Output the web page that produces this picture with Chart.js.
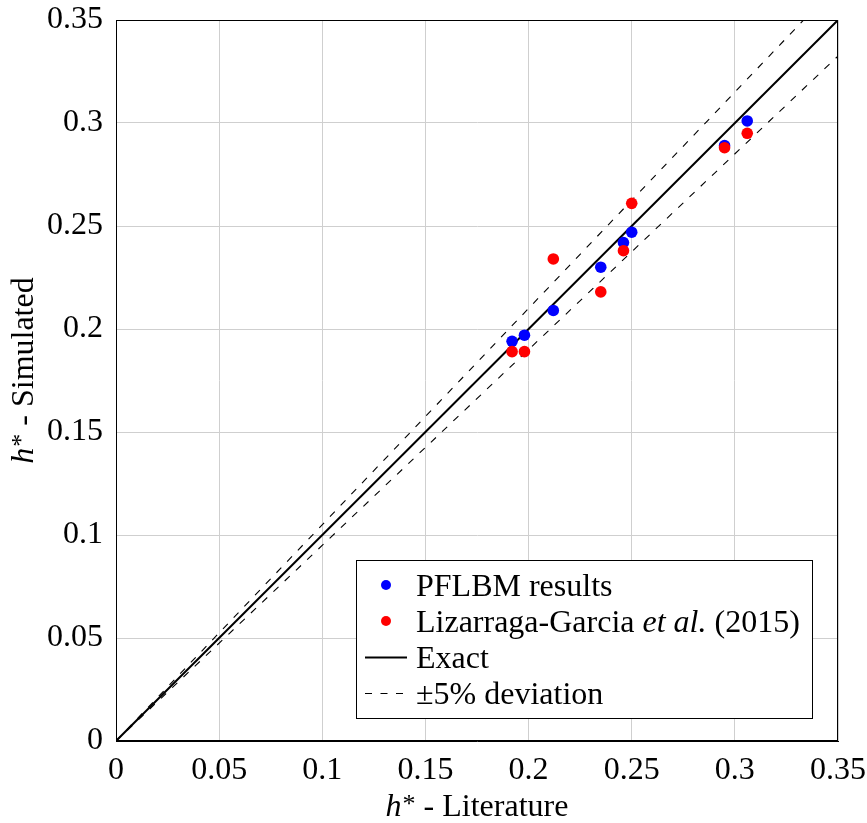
<!DOCTYPE html>
<html>
<head>
<meta charset="utf-8">
<script src="https://cdn.jsdelivr.net/npm/chart.js@4/dist/chart.umd.min.js"></script>
<style>
  html, body { margin: 0; padding: 0; background: #fff; }
  #c { display: block; }
</style>
</head>
<body>
<canvas id="c" width="867" height="823"></canvas>
<script>
// Dimensionless film thickness h*: literature values vs. simulated values
const literatureValues = [0.192, 0.198, 0.212, 0.235, 0.246, 0.250, 0.295, 0.306];
const pflbmValues      = [0.194, 0.197, 0.209, 0.230, 0.242, 0.247, 0.289, 0.301];
const lizarragaValues  = [0.189, 0.189, 0.234, 0.218, 0.238, 0.261, 0.288, 0.295];

// Reference lines: exact agreement and the +/-5% band (end points)
const refLineX   = [0, 0.35];
const exactLineY = [0, 0.35];
const upperLineY = [0, 0.3675];
const lowerLineY = [0, 0.3325];

const tickLabels = ['0', '0.05', '0.1', '0.15', '0.2', '0.25', '0.3', '0.35'];
const seriesLabels = ['PFLBM results', 'Lizarraga-Garcia et al. (2015)', 'Exact', '\u00b15% deviation'];
const xTitle = [{ t: 'h', italic: true }, { t: '*', sup: true }, { t: ' - Literature' }];
const yTitle = [{ t: 'h', italic: true }, { t: '*', sup: true }, { t: ' - Simulated' }];

const FONT = '"Liberation Serif", "Times New Roman", Times, serif';
const FS = 32;

const toPoints = (xs, ys) => xs.map((x, i) => ({ x: x, y: ys[i] }));

function fontStr(size, italic) {
  return (italic ? 'italic ' : '') + size + 'px ' + FONT;
}

// Text made of pieces (italic / superscript), drawn on one baseline
function supSize(size) { return Math.round(size * 0.8); }
function measureRuns(ctx, runs, size) {
  let w = 0;
  runs.forEach(r => {
    ctx.font = fontStr(r.sup ? supSize(size) : size, r.italic);
    w += ctx.measureText(r.t).width + (r.sup ? 1 : 0);
  });
  return w;
}
function drawRuns(ctx, runs, x, y, size) {
  ctx.textBaseline = 'alphabetic';
  ctx.textAlign = 'left';
  runs.forEach(r => {
    ctx.font = fontStr(r.sup ? supSize(size) : size, r.italic);
    ctx.fillText(r.t, x + (r.sup ? 1 : 0), y - (r.sup ? size * 0.12 : 0));
    x += ctx.measureText(r.t).width + (r.sup ? 1 : 0);
  });
  return x;
}
function labelRuns(label) {
  return label.split(/(et al\.)/).filter(s => s.length).map(s => ({ t: s, italic: s === 'et al.' }));
}

const framePlugin = {
  id: 'frameAndTitles',
  afterDraw(chart) {
    const ctx = chart.ctx;
    const a = chart.chartArea;
    ctx.save();
    // full box around the plot area
    ctx.strokeStyle = '#000';
    ctx.lineWidth = 1;
    ctx.strokeRect(Math.round(a.left) + 0.5, Math.round(a.top) + 0.5,
                   Math.round(a.right - a.left) - 1, Math.round(a.bottom - a.top) - 1);

    // axis titles
    ctx.fillStyle = '#000';
    const xw = measureRuns(ctx, xTitle, FS);
    drawRuns(ctx, xTitle, (a.left + a.right) / 2 - xw / 2, 816, FS);

    const yw = measureRuns(ctx, yTitle, FS);
    ctx.save();
    ctx.translate(33, (a.top + a.bottom) / 2 - 10);
    ctx.rotate(-Math.PI / 2);
    drawRuns(ctx, yTitle, -yw / 2, 0, FS);
    ctx.restore();

    // legend box (bottom right of the plot area)
    const entries = [0, 1, 2, 3].map(i => chart.data.datasets[i]);
    const rowH = 36, padL = 9, sampleW = 42, gap = 9, padR = 12, padV = 7;
    let textW = 0;
    entries.forEach(ds => { textW = Math.max(textW, measureRuns(ctx, labelRuns(ds.label), FS)); });
    const boxW = Math.round(padL + sampleW + gap + textW + padR);
    const boxH = entries.length * rowH + 2 * padV;
    const right = Math.round(a.right - 26), bottom = Math.round(a.bottom - 23);
    const left = right - boxW, top = bottom - boxH;
    ctx.fillStyle = '#fff';
    ctx.fillRect(left, top, boxW, boxH);
    ctx.strokeStyle = '#000';
    ctx.lineWidth = 1;
    ctx.strokeRect(left + 0.5, top + 0.5, boxW, boxH);
    entries.forEach((ds, i) => {
      const cy = top + padV + rowH * i + rowH / 2;
      const sx = left + padL;
      if (ds.type === 'line') {
        ctx.beginPath();
        ctx.strokeStyle = ds.borderColor;
        ctx.lineWidth = ds.borderWidth;
        ctx.setLineDash(ds.borderDash || []);
        ctx.moveTo(sx, Math.round(cy) + 0.5);
        ctx.lineTo(sx + sampleW, Math.round(cy) + 0.5);
        ctx.stroke();
        ctx.setLineDash([]);
      } else {
        ctx.beginPath();
        ctx.fillStyle = ds.backgroundColor;
        ctx.arc(sx + sampleW / 2, cy, 5, 0, Math.PI * 2);
        ctx.fill();
      }
      ctx.fillStyle = '#000';
      drawRuns(ctx, labelRuns(ds.label), sx + sampleW + gap, cy + 11, FS);
    });
    ctx.restore();
  }
};

const axisCommon = {
  type: 'linear',
  min: 0,
  max: 0.35,
  ticks: {
    stepSize: 0.05,
    color: '#000',
    font: { family: FONT, size: FS },
    callback: v => tickLabels[Math.round(v / 0.05)]
  },
  grid: { color: '#cfcfcf', lineWidth: 1, drawTicks: false },
  border: { display: true, color: '#000', width: 1 }
};

new Chart(document.getElementById('c'), {
  type: 'scatter',
  data: {
    datasets: [
      { label: seriesLabels[0], data: toPoints(literatureValues, pflbmValues),
        backgroundColor: '#0000ff', borderWidth: 0, pointRadius: 5.8, order: 1 },
      { label: seriesLabels[1], data: toPoints(literatureValues, lizarragaValues),
        backgroundColor: '#ff0000', borderWidth: 0, pointRadius: 5.8, order: 0 },
      { label: seriesLabels[2], type: 'line', data: toPoints(refLineX, exactLineY),
        borderColor: '#000', borderWidth: 2, pointRadius: 0, fill: false, order: 2 },
      { label: seriesLabels[3], type: 'line', data: toPoints(refLineX, upperLineY),
        borderColor: '#000', borderWidth: 1.1, borderDash: [7, 8.5], pointRadius: 0, fill: false, order: 3 },
      { label: seriesLabels[3], type: 'line', data: toPoints(refLineX, lowerLineY),
        borderColor: '#000', borderWidth: 1.1, borderDash: [7, 8.5], pointRadius: 0, fill: false, order: 3 }
    ]
  },
  options: {
    responsive: false,
    animation: false,
    events: [],
    devicePixelRatio: 1,
    layout: { padding: { left: 0, right: 29, top: 20, bottom: 0 } },
    plugins: { legend: { display: false }, tooltip: { enabled: false } },
    scales: {
      x: Object.assign({}, axisCommon, {
        position: 'bottom',
        ticks: Object.assign({}, axisCommon.ticks, { padding: 10, maxRotation: 0 }),
        afterFit: s => { s.height = 82; s.paddingLeft = 0; s.paddingRight = 0; }
      }),
      y: Object.assign({}, axisCommon, {
        position: 'left',
        ticks: Object.assign({}, axisCommon.ticks, { padding: 13 }),
        afterFit: s => { s.width = 116; s.paddingTop = 0; s.paddingBottom = 0; }
      })
    }
  },
  plugins: [framePlugin]
});
</script>
</body>
</html>
